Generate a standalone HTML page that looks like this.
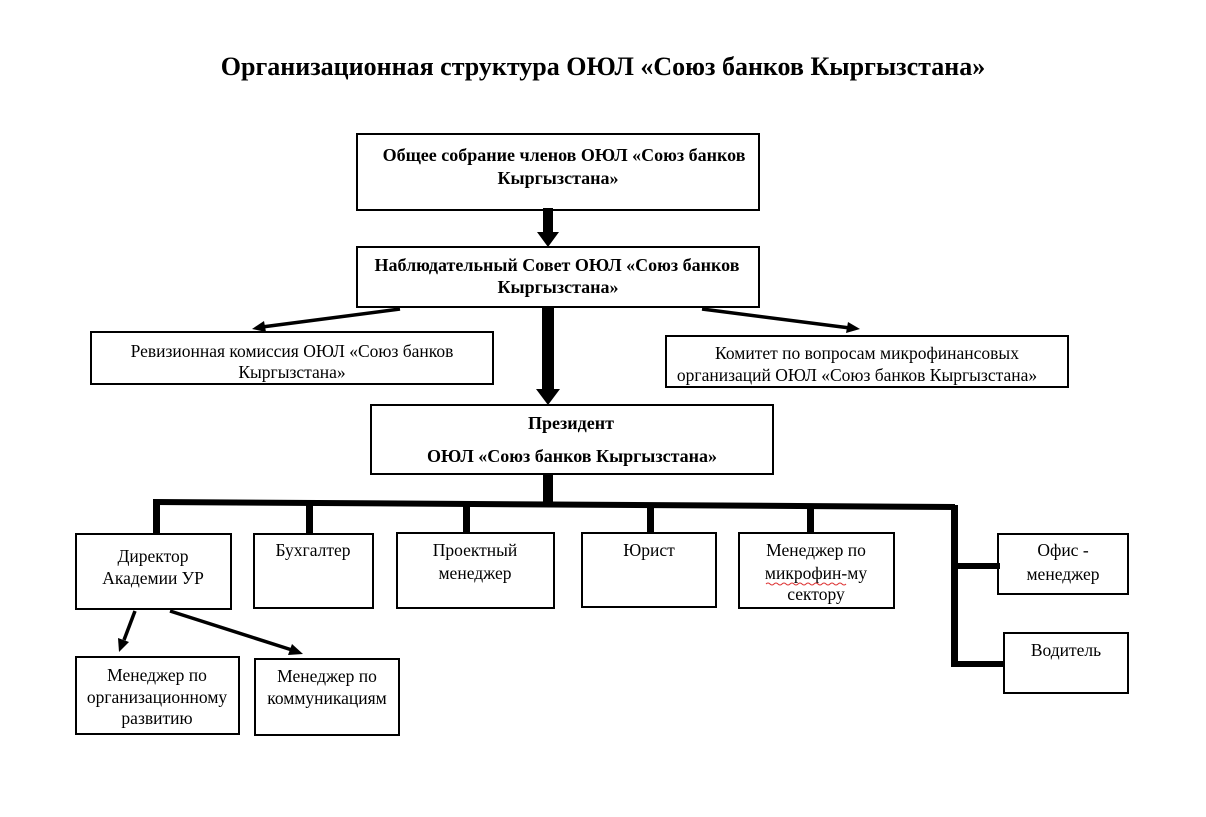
<!DOCTYPE html>
<html><head><meta charset="utf-8"><style>
html,body{margin:0;padding:0;background:#fff;}
svg{display:block;}
text{font-family:"Liberation Serif","DejaVu Serif",serif;fill:#000;}
.b{font-weight:bold;font-size:18px;}
.n{font-size:17.5px;}
</style></head><body>
<svg width="1206" height="817" viewBox="0 0 1206 817" xmlns="http://www.w3.org/2000/svg">
<text x="603" y="75" text-anchor="middle" style="font-weight:bold;font-size:26px">Организационная структура ОЮЛ «Союз банков Кыргызстана»</text>
<g fill="none" stroke="#000" stroke-width="2">
<rect x="357" y="134" width="402" height="76"/>
<rect x="357" y="247" width="402" height="60"/>
<rect x="91" y="332" width="402" height="52"/>
<rect x="666" y="336" width="402" height="51"/>
<rect x="371" y="405" width="402" height="69"/>
<rect x="76" y="534" width="155" height="75"/>
<rect x="254" y="534" width="119" height="74"/>
<rect x="397" y="533" width="157" height="75"/>
<rect x="582" y="533" width="134" height="74"/>
<rect x="739" y="533" width="155" height="75"/>
<rect x="998" y="534" width="130" height="60"/>
<rect x="1004" y="633" width="124" height="60"/>
<rect x="76" y="657" width="163" height="77"/>
<rect x="255" y="659" width="144" height="76"/>
</g>
<rect x="543" y="208" width="10" height="26" fill="#000"/>
<polygon points="537,232 559,232 548,247" fill="#000"/>
<rect x="542" y="307" width="12" height="84" fill="#000"/>
<polygon points="536,389 560,389 548,405" fill="#000"/>
<rect x="543" y="474" width="10" height="28" fill="#000"/>
<g stroke="#000" stroke-width="3.5">
<line x1="400" y1="309" x2="262" y2="327"/>
<line x1="702" y1="309" x2="850" y2="328"/>
<line x1="135" y1="611" x2="124" y2="640"/>
<line x1="170" y1="611" x2="292" y2="650"/>
</g>
<polygon points="252,329 264,321 266,332" fill="#000"/>
<polygon points="860,329 846,333 848,322" fill="#000"/>
<polygon points="119,652 118,638 129,642" fill="#000"/>
<polygon points="303,654 288,655 292,644" fill="#000"/>
<polygon points="153,499 955,504 955,510 153,505" fill="#000"/>
<g fill="#000">
<rect x="153" y="500" width="7" height="34"/>
<rect x="306" y="502" width="7" height="32"/>
<rect x="463" y="503" width="7" height="30"/>
<rect x="647" y="504" width="7" height="29"/>
<rect x="807" y="505" width="7" height="28"/>
<rect x="951" y="505" width="7" height="162"/>
<rect x="951" y="563" width="49" height="6"/>
<rect x="951" y="661" width="54" height="6"/>
</g>
<text class="b" x="564" y="161" text-anchor="middle">Общее собрание членов ОЮЛ «Союз банков</text>
<text class="b" x="558" y="184" text-anchor="middle">Кыргызстана»</text>
<text class="b" x="557" y="271" text-anchor="middle">Наблюдательный Совет ОЮЛ «Союз банков</text>
<text class="b" x="558" y="293" text-anchor="middle">Кыргызстана»</text>
<text class="n" x="292" y="357" text-anchor="middle">Ревизионная комиссия ОЮЛ «Союз банков</text>
<text class="n" x="292" y="378" text-anchor="middle">Кыргызстана»</text>
<text class="n" x="867" y="359" text-anchor="middle">Комитет по вопросам микрофинансовых</text>
<text class="n" x="857" y="381" text-anchor="middle">организаций ОЮЛ «Союз банков Кыргызстана»</text>
<text class="b" x="571" y="429" text-anchor="middle">Президент</text>
<text class="b" x="572" y="462" text-anchor="middle">ОЮЛ «Союз банков Кыргызстана»</text>
<text class="n" x="153" y="562" text-anchor="middle">Директор</text>
<text class="n" x="153" y="584" text-anchor="middle">Академии УР</text>
<text class="n" x="313" y="556" text-anchor="middle">Бухгалтер</text>
<text class="n" x="475" y="556" text-anchor="middle">Проектный</text>
<text class="n" x="475" y="579" text-anchor="middle">менеджер</text>
<text class="n" x="649" y="556" text-anchor="middle">Юрист</text>
<text class="n" x="816" y="556" text-anchor="middle">Менеджер по</text>
<text class="n" x="816" y="579" text-anchor="middle">микрофин-му</text>
<text class="n" x="816" y="600" text-anchor="middle">сектору</text>
<path d="M766,584 q2,-2 4,0 t4,0 t4,0 t4,0 t4,0 t4,0 t4,0 t4,0 t4,0 t4,0 t4,0 t4,0 t4,0 t4,0 t4,0 t4,0 t4,0 t4,0 t4,0 t4,0" fill="none" stroke="#d33" stroke-width="1"/>
<text class="n" x="1063" y="556" text-anchor="middle">Офис -</text>
<text class="n" x="1063" y="580" text-anchor="middle">менеджер</text>
<text class="n" x="1066" y="656" text-anchor="middle">Водитель</text>
<text class="n" x="157" y="681" text-anchor="middle">Менеджер по</text>
<text class="n" x="157" y="703" text-anchor="middle">организационному</text>
<text class="n" x="157" y="724" text-anchor="middle">развитию</text>
<text class="n" x="327" y="682" text-anchor="middle">Менеджер по</text>
<text class="n" x="327" y="704" text-anchor="middle">коммуникациям</text>
</svg>
</body></html>
